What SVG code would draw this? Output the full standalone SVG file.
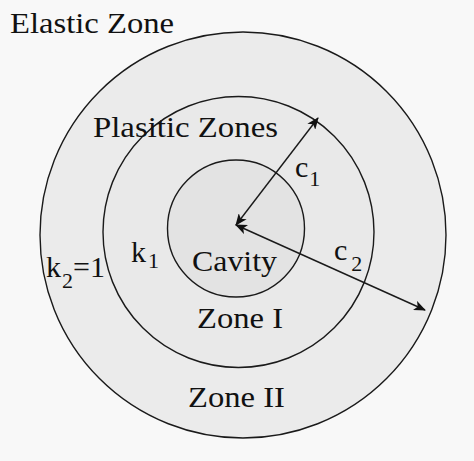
<svg xmlns="http://www.w3.org/2000/svg" width="474" height="461" viewBox="0 0 474 461">
<style>
.ring{stroke:#1a1a1a;stroke-width:1.4}
.t{font-family:"Liberation Serif","Times New Roman",serif;font-size:30px;fill:#111}
.s{font-size:22px}
.arr{stroke:#1a1a1a;stroke-width:1.4;fill:none;marker-start:url(#ah);marker-end:url(#ah)}
</style>
<defs>
<marker id="ah" viewBox="0 0 12 10" refX="11" refY="5" markerWidth="12" markerHeight="10" markerUnits="userSpaceOnUse" orient="auto-start-reverse">
<path d="M0,0 L12,5 L0,10 L3,5 z" fill="#111"/>
</marker>
</defs>
<rect x="0" y="0" width="474" height="461" fill="#f8f8f8"/>
<g id="elastic-zone">
<circle class="ring" cx="243" cy="235" r="203" fill="#ebebeb"/>
<text class="t" x="10" y="33" textLength="164" lengthAdjust="spacingAndGlyphs">Elastic Zone</text>
</g>
<g id="plastic-zone">
<circle class="ring" cx="238.5" cy="232" r="135.5" fill="#e9e9e9"/>
<text class="t" x="93" y="137" textLength="185" lengthAdjust="spacingAndGlyphs">Plasitic Zones</text>
</g>
<g id="cavity">
<circle class="ring" cx="236" cy="228.5" r="68.5" fill="#e3e3e3"/>
<text class="t" x="192" y="271" textLength="85" lengthAdjust="spacingAndGlyphs">Cavity</text>
</g>
<g id="connectors">
<line class="arr" x1="236" y1="225" x2="318" y2="118"/>
<line class="arr" x1="236" y1="225" x2="425" y2="310"/>
</g>
<g id="labels">
<text class="t" x="295" y="177">c<tspan class="s" dx="1" dy="9">1</tspan></text>
<text class="t" x="334" y="260">c<tspan class="s" dx="4" dy="11">2</tspan></text>
<text class="t" x="131" y="262">k<tspan class="s" dx="2" dy="6">1</tspan></text>
<text class="t" x="46" y="277">k<tspan class="s" dx="1" dy="11">2</tspan><tspan dy="-11">=1</tspan></text>
<text class="t" x="197" y="328" textLength="86" lengthAdjust="spacingAndGlyphs">Zone I</text>
<text class="t" x="188" y="407" textLength="97" lengthAdjust="spacingAndGlyphs">Zone II</text>
</g>
</svg>
